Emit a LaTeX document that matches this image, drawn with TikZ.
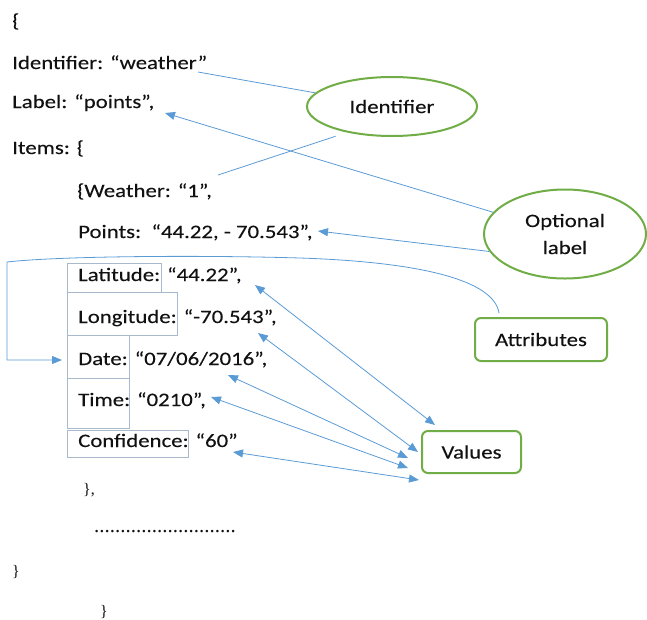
\documentclass[tikz,border=0pt]{standalone}
\usepackage{fontspec}
\setmainfont{Carlito}[FakeStretch=1.2,FakeBold=0.12]
\newfontfamily\bracefont{Liberation Serif}
\usetikzlibrary{arrows.meta,shapes.geometric}
\definecolor{linkblue}{HTML}{5B9BD5}
\definecolor{boxgreen}{HTML}{70AD47}
\definecolor{keyframe}{HTML}{A9B9CC}
\definecolor{ink}{HTML}{111111}

\begin{document}
\begin{tikzpicture}[x=1pt,y=-1pt,
  every node/.style={text=ink, font=\fontsize{19}{27}\selectfont},
  code/.style={anchor=base west, inner sep=0pt},
  brace/.style={anchor=base west, inner sep=0pt, font=\bracefont\fontsize{16}{18}\selectfont},
  tag/.style={draw=boxgreen, line width=2pt, ellipse, inner sep=0pt, align=center},
  tagbox/.style={draw=boxgreen, line width=2pt, rounded corners=6pt, inner sep=0pt},
  link/.style={draw=linkblue, line width=0.8pt},
  pointer/.style={link, -{Triangle[length=10pt,width=8pt]}},
  twoway/.style={link, {Triangle[length=10pt,width=8pt]}-{Triangle[length=10pt,width=8pt]}},
  keybox/.style={draw=keyframe, line width=0.8pt},
]
\useasboundingbox (0,0) rectangle (647,619);

% JSON listing
\node[code] (open) at (12,27) {\{};
\node[code] (ident) at (12,69) {Identifier: “weather”};
\node[code] (label) at (12,108) {Label: “points”,};
\node[code] (items) at (12,154) {Items: \{};
\node[code] (weather) at (77,197) {\{Weather: “1”,};
\node[code] (points) at (78,238) {Points:\ \ “44.22, - 70.543”,};
\node[code] (lat) at (78,281) {Latitude: “44.22”,};
\node[code] (lon) at (78,323) {Longitude: “-70.543”,};
\node[code] (date) at (78,365) {Date: “07/06/2016”,};
\node[code] (time) at (78,406) {Time: “0210”,};
\node[code] (conf) at (78,447) {Confidence: “60”};
\node[brace] (itemclose) at (83,494) {\},};
\node[code, font=\bracefont\fontsize{21}{24}\selectfont] (more) at (94,532) {...........................};
\node[brace] (close1) at (12,576) {\}};
\node[brace] (close2) at (100,616) {\}};

% frames round the attribute names
\draw[keybox] (67,263) rectangle (161,292);
\draw[keybox] (67,292) rectangle (177,335);
\draw[keybox] (67,335) rectangle (129,378);
\draw[keybox] (67,378) rectangle (129,428);
\draw[keybox] (67,430) rectangle (188,457);

% callouts
\node[tag, minimum width=170pt, minimum height=59pt] (tagid) at (392,106.5) {Identifier};
\node[tag, minimum width=162pt, minimum height=89pt] (tagopt) at (565,234) {Optional\\label};
\node[tagbox, minimum width=132pt, minimum height=43pt] (tagattr) at (541,339.5) {Attributes};
\node[tagbox, minimum width=99pt, minimum height=42pt] (tagval) at (471.5,452) {Values};

% connector end points
\coordinate (identend) at (198,72);
\coordinate (weatherend) at (218,175);
\coordinate (labeltip) at (165,113);
\coordinate (pointstip) at (318,231);
\coordinate (attrtop) at (499,313);
\coordinate (corner) at (7,262);
\coordinate (cornerlow) at (7,360);
\coordinate (datein) at (62,360);
\coordinate (latv) at (255,285);
\coordinate (lonv) at (258,333);
\coordinate (datev) at (228,375);
\coordinate (timev) at (211,397);
\coordinate (confv) at (233,452);
\coordinate (vallat) at (435,425);
\coordinate (vallon) at (418,452);
\coordinate (valdate) at (408,458);
\coordinate (valtime) at (408,468);
\coordinate (valconf) at (419,480);

% identifier and label links
\draw[link] (identend) -- (tagid);
\draw[link, shorten >=12pt] (weatherend) -- (tagid.210);
\draw[pointer] (tagopt) -- (labeltip);
\draw[pointer] (tagopt.193) -- (pointstip);

% attribute bracket
\draw[pointer] (attrtop) .. controls (494,280) and (420,262) .. (300,258)
  .. controls (200,255) and (60,256) .. (corner) -- (cornerlow) -- (datein);

% value links
\draw[twoway] (latv) -- (vallat);
\draw[twoway] (lonv) -- (vallon);
\draw[twoway] (datev) -- (valdate);
\draw[twoway] (timev) -- (valtime);
\draw[twoway] (confv) -- (valconf);
\end{tikzpicture}
\end{document}
